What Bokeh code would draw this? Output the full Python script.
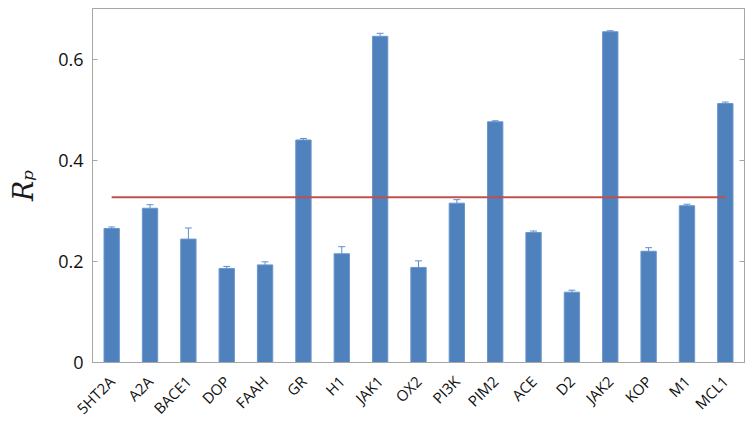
from bokeh.plotting import figure
from bokeh.models import LinearAxis, FixedTicker, Range1d, ColumnDataSource
from bokeh.embed import file_html
from bokeh.resources import INLINE
import math

categories = ["5HT2A", "A2A", "BACE1", "DOP", "FAAH", "GR", "H1", "JAK1", "OX2",
              "PI3K", "PIM2", "ACE", "D2", "JAK2", "KOP", "M1", "MCL1"]
values = [0.265, 0.305, 0.244, 0.186, 0.193, 0.440, 0.215, 0.645, 0.188,
          0.315, 0.476, 0.257, 0.139, 0.654, 0.220, 0.310, 0.512]
errors = [0.003, 0.007, 0.022, 0.004, 0.006, 0.003, 0.014, 0.006, 0.013,
          0.007, 0.002, 0.003, 0.004, 0.002, 0.007, 0.003, 0.003]
threshold = 0.327
y_ticks = [0, 0.2, 0.4, 0.6]
y_tick_labels = ["0", "0.2", "0.4", "0.6"]

xs = list(range(len(categories)))
tops = [v + e for v, e in zip(values, errors)]
src = ColumnDataSource(dict(x=xs, v=values, top=tops,
                            cl=[x - 0.09 for x in xs], cr=[x + 0.09 for x in xs]))

p = figure(width=752, height=428, output_backend="svg", toolbar_location=None,
           x_range=Range1d(-0.5, len(categories) - 0.5), y_range=Range1d(0, 0.7),
           min_border_left=92, min_border_right=8, min_border_top=8, min_border_bottom=63)
p.grid.visible = False
p.outline_line_color = "#a6a6a6"
p.background_fill_color = "white"

p.vbar(x="x", top="v", width=0.4, bottom=0, source=src,
       fill_color="#4F81BD", line_color="#6A96CC", line_width=1)
p.segment(x0="x", y0="v", x1="x", y1="top", source=src, line_color="#5B8ED1", line_width=1)
p.segment(x0="cl", y0="top", x1="cr", y1="top", source=src, line_color="#5B8ED1", line_width=1)
p.segment(x0=[xs[0]], y0=[threshold], x1=[xs[-1]], y1=[threshold],
          line_color="#C0504D", line_width=2)

# y axis
ya = p.yaxis[0]
ya.ticker = FixedTicker(ticks=y_ticks)
ya.major_label_overrides = {t: l for t, l in zip(y_ticks, y_tick_labels)}
ya.major_tick_in = 5
ya.major_tick_out = 0
ya.minor_tick_line_color = None
ya.axis_line_color = "#a6a6a6"
ya.major_tick_line_color = "#a6a6a6"
ya.major_label_text_font = "Open Sans"
ya.major_label_text_font_size = "18px"
ya.major_label_text_color = "#111111"
ya.major_label_standoff = 9
ya.axis_label = "Rₚ"
ya.axis_label_text_font = "DejaVu Serif"
ya.axis_label_text_font_style = "italic"
ya.axis_label_text_font_size = "27px"
ya.axis_label_text_color = "#1a1a1a"
ya.axis_label_standoff = 16

# right axis (ticks only)
ra = LinearAxis(ticker=FixedTicker(ticks=y_ticks), major_tick_in=5, major_tick_out=0,
                minor_tick_line_color=None,
                major_label_overrides={t: "" for t in y_ticks},
                axis_line_color="#a6a6a6", major_tick_line_color="#a6a6a6")
p.add_layout(ra, "right")

# x axis
xa = p.xaxis[0]
xa.ticker = FixedTicker(ticks=xs)
xa.major_label_overrides = {i: c for i, c in enumerate(categories)}
xa.major_label_orientation = math.pi / 4
xa.major_tick_line_color = None
xa.minor_tick_line_color = None
xa.axis_line_color = "#a6a6a6"
xa.major_label_text_font = "Open Sans"
xa.major_label_text_font_size = "15px"
xa.major_label_text_color = "#111111"
xa.major_label_standoff = 10

open("out.html", "w").write(file_html(p, INLINE))
